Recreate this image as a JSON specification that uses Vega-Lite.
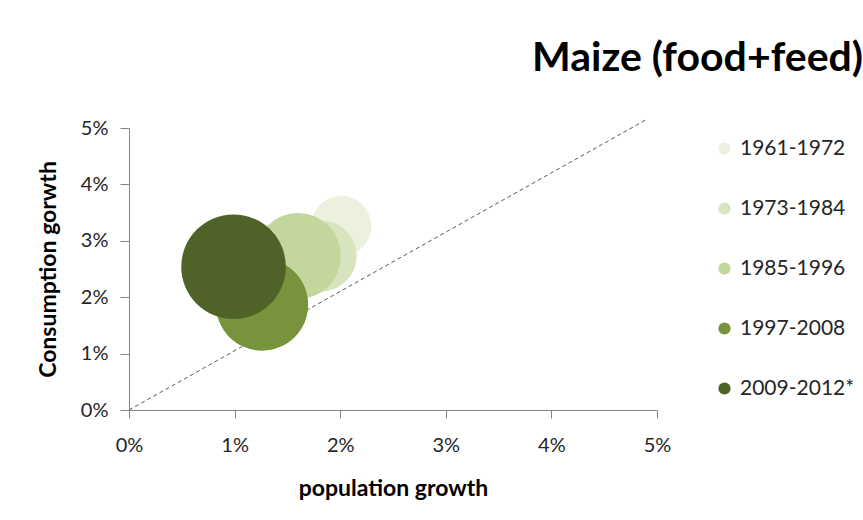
{
  "$schema": "https://vega.github.io/schema/vega-lite/v6.json",
  "width": 528,
  "height": 282,
  "autosize": {"type": "none"},
  "padding": {"left": 129, "top": 128, "right": 206, "bottom": 110},
  "background": "white",
  "title": {
    "text": "Maize (food+feed)",
    "anchor": "start",
    "frame": "group",
    "dx": 403,
    "offset": 38,
    "font": "Lato",
    "fontWeight": "bold",
    "fontSize": 41,
    "color": "#000000"
  },
  "datasets": {
    "bubbles": [
      {"period": "1961-1972", "pop": 2.01, "cons": 3.26, "area": 36.3},
      {"period": "1973-1984", "pop": 1.82, "cons": 2.73, "area": 50.3},
      {"period": "1985-1996", "pop": 1.60, "cons": 2.73, "area": 73.9},
      {"period": "1997-2008", "pop": 1.26, "cons": 1.87, "area": 85.0},
      {"period": "2009-2012*", "pop": 0.99, "cons": 2.54, "area": 109.4}
    ],
    "diag": [
      {"pop": 0, "cons": 0},
      {"pop": 4.89, "cons": 5.14}
    ]
  },
  "layer": [
    {
      "data": {"name": "diag"},
      "mark": {"type": "line", "color": "#595959", "strokeWidth": 1, "strokeDash": [4, 3]},
      "encoding": {
        "x": {"field": "pop", "type": "quantitative"},
        "y": {"field": "cons", "type": "quantitative"}
      }
    },
    {
      "data": {"name": "bubbles"},
      "mark": {"type": "circle", "opacity": 1, "strokeWidth": 0},
      "encoding": {
        "x": {
          "field": "pop", "type": "quantitative",
          "scale": {"domain": [0, 5], "nice": false},
          "axis": {
            "title": "population growth",
            "values": [0, 1, 2, 3, 4, 5],
            "labelExpr": "datum.value + '%'",
            "labelFlush": false,
            "labelOverlap": false,
            "grid": false,
            "domainColor": "#868686",
            "tickColor": "#868686",
            "tickSize": 8,
            "labelPadding": 17,
            "labelFont": "Lato",
            "labelFontSize": 20,
            "labelColor": "#262626",
            "titleFont": "Lato",
            "titleFontWeight": "bold",
            "titleFontSize": 23,
            "titleColor": "#000000",
            "titlePadding": 22
          }
        },
        "y": {
          "field": "cons", "type": "quantitative",
          "scale": {"domain": [0, 5], "nice": false},
          "axis": {
            "title": "Consumption gorwth",
            "values": [0, 1, 2, 3, 4, 5],
            "labelExpr": "datum.value + '%'",
            "labelFlush": false,
            "labelOverlap": false,
            "grid": false,
            "domainColor": "#868686",
            "tickColor": "#868686",
            "tickSize": 9,
            "labelPadding": 12,
            "labelFont": "Lato",
            "labelFontSize": 20,
            "labelColor": "#262626",
            "titleFont": "Lato",
            "titleFontWeight": "bold",
            "titleFontSize": 23,
            "titleColor": "#000000",
            "titlePadding": 20
          }
        },
        "color": {
          "field": "period", "type": "nominal",
          "scale": {
            "domain": ["1961-1972", "1973-1984", "1985-1996", "1997-2008", "2009-2012*"],
            "range": ["#EBF1DE", "#D7E4BD", "#C3D69B", "#77933C", "#4F6228"]
          },
          "legend": {
            "title": null,
            "orient": "none",
            "legendX": 585,
            "legendY": 10,
            "symbolType": "circle",
            "symbolSize": 150,
            "symbolOpacity": 1,
            "labelFont": "Lato",
            "labelFontSize": 21,
            "labelColor": "#262626",
            "labelOffset": 5,
            "rowPadding": 38
          }
        },
        "size": {
          "field": "area", "type": "quantitative",
          "scale": {"type": "linear", "domain": [0, 100], "range": [0, 10000], "zero": true},
          "legend": null
        }
      }
    }
  ],
  "config": {
    "view": {"stroke": null},
    "axis": {"domainWidth": 1}
  }
}
